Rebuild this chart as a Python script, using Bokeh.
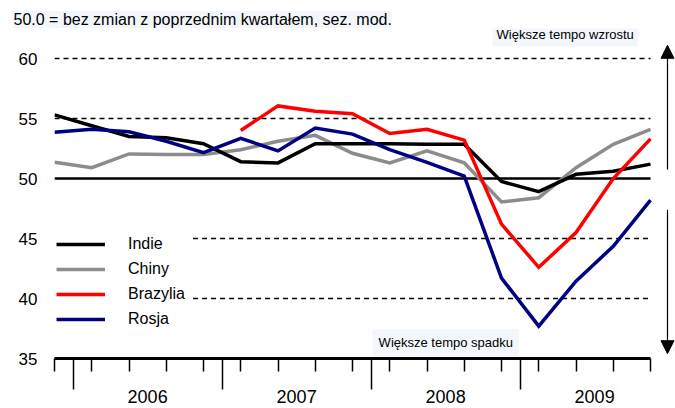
import math
from bokeh.plotting import figure
from bokeh.models import (Range1d, LinearAxis, FixedTicker, Legend, LegendItem,
                          Label, Arrow, NormalHead, ColumnDataSource, Title)
from bokeh.embed import file_html
from bokeh.resources import INLINE

nan = float("nan")

# ---- data (quarterly, IV 2005 .. IV 2009) ----
quarters = ["IV 2005", "I 2006", "II 2006", "III 2006", "IV 2006",
            "I 2007", "II 2007", "III 2007", "IV 2007",
            "I 2008", "II 2008", "III 2008", "IV 2008",
            "I 2009", "II 2009", "III 2009", "IV 2009"]
years = ["2006", "2007", "2008", "2009"]
indie = [55.3, 54.4, 53.5, 53.4, 52.9, 51.4, 51.3, 52.9, 52.9,
         52.9, 52.85, 52.85, 49.75, 48.9, 50.35, 50.6, 51.2]
chiny = [51.35, 50.9, 52.05, 52.0, 52.0, 52.4, 53.1, 53.6, 52.1,
         51.3, 52.3, 51.3, 48.05, 48.4, 50.9, 52.85, 54.1]
brazylia = [nan, nan, nan, nan, nan, 54.0, 56.05, 55.6, 55.4,
            53.75, 54.1, 53.2, 46.2, 42.6, 45.5, 50.0, 53.3]
rosja = [53.85, 54.1, 53.9, 53.1, 52.15, 53.35, 52.3, 54.2, 53.7,
         52.4, 51.35, 50.2, 41.7, 37.7, 41.45, 44.35, 48.2]
y_ticks = [35, 40, 45, 50, 55, 60]
dashed_levels_full = [55, 60]
dashed_levels_part = [40, 45]
zero_level = [50]

FONT = "Liberation Sans"
xs = list(range(len(quarters)))
last = len(quarters) - 1
box = "#f3f7fb"

title = Title(text="50.0 = bez zmian z poprzednim kwartałem, sez. mod.",
              align="left", offset=-41, standoff=1, text_font=FONT,
              text_font_size="16px", text_font_style="normal",
              text_color="black", background_fill_color=box)

p = figure(width=675, height=408, output_backend="svg", toolbar_location=None,
           x_range=Range1d(0, 16.671), y_range=Range1d(35, 62.5),
           x_axis_location=None, y_axis_location=None, title=title,
           min_border_left=54, min_border_right=0, min_border_top=28,
           min_border_bottom=50, outline_line_color=None,
           background_fill_color="white", border_fill_color="white")
p.center = []

# y axis
yax = LinearAxis(ticker=FixedTicker(ticks=y_ticks), axis_line_color=None,
                 major_tick_line_color=None, minor_tick_line_color=None,
                 major_tick_out=0, major_tick_in=0, minor_tick_out=0, minor_tick_in=0,
                 major_label_text_font=FONT, major_label_text_font_size="17px",
                 major_label_text_color="black", major_label_standoff=17)
p.add_layout(yax, "left")

# x axis: quarter ticks + year separators
bounds_ticks = [0.5 + 4 * k for k in range(len(years))]
centers = [2.5 + 4 * k for k in range(len(years))]
ax1 = LinearAxis(ticker=FixedTicker(ticks=bounds_ticks, minor_ticks=xs),
                 bounds=(0, last), axis_line_width=3, axis_line_color="black",
                 major_tick_out=31, major_tick_in=0, minor_tick_out=13, minor_tick_in=0,
                 major_tick_line_width=1.5, minor_tick_line_width=1.5,
                 major_tick_line_color="black", minor_tick_line_color="black",
                 major_label_overrides={t: "" for t in bounds_ticks},
                 major_label_text_font_size="0px", major_label_standoff=0)
p.add_layout(ax1, "below")
ax2 = LinearAxis(ticker=FixedTicker(ticks=centers), bounds=(0, last),
                 axis_line_color=None, major_tick_line_color=None,
                 minor_tick_line_color=None, major_tick_out=0, major_tick_in=0,
                 minor_tick_out=0, minor_tick_in=0,
                 major_label_overrides={c: y for c, y in zip(centers, years)},
                 major_label_text_font=FONT, major_label_text_font_size="18px",
                 major_label_text_color="black", major_label_standoff=0)
p.add_layout(ax2, "below")

# reference lines
p.segment(x0=[0] * len(dashed_levels_full), x1=[last] * len(dashed_levels_full),
          y0=dashed_levels_full, y1=dashed_levels_full,
          line_color="black", line_width=1.3, line_dash="5 4")
p.segment(x0=[3.72] * len(dashed_levels_part), x1=[last] * len(dashed_levels_part),
          y0=dashed_levels_part, y1=dashed_levels_part,
          line_color="black", line_width=1.3, line_dash="5 4")
p.segment(x0=[0], x1=[last], y0=zero_level, y1=zero_level,
          line_color="black", line_width=2.5)

src = ColumnDataSource(dict(x=xs, indie=indie, chiny=chiny, brazylia=brazylia, rosja=rosja))
lw = 3.5
r_ch = p.line("x", "chiny", source=src, line_color="#8c8c8c", line_width=lw, line_join="miter")
r_in = p.line("x", "indie", source=src, line_color="black", line_width=lw, line_join="miter")
r_ro = p.line("x", "rosja", source=src, line_color="#000080", line_width=lw, line_join="miter")
r_br = p.line("x", "brazylia", source=src, line_color="#ff0000", line_width=lw, line_join="miter")

legend = Legend(items=[LegendItem(label="Indie", renderers=[r_in]),
                       LegendItem(label="Chiny", renderers=[r_ch]),
                       LegendItem(label="Brazylia", renderers=[r_br]),
                       LegendItem(label="Rosja", renderers=[r_ro])],
                location=(2, 29), glyph_width=49, glyph_height=20,
                label_height=20, spacing=5, padding=0, margin=0,
                label_standoff=23, border_line_color=None,
                background_fill_alpha=0, label_text_font=FONT,
                label_text_font_size="16px", label_text_color="black")
p.add_layout(legend)

# annotations
p.add_layout(Label(x=11.76, y=61.96, text="Większe tempo wzrostu",
                   text_font=FONT, text_font_size="13px", text_baseline="middle",
                   text_color="black", background_fill_color=box, padding=4))
p.add_layout(Label(x=8.54, y=36.33, text="Większe tempo spadku",
                   text_font=FONT, text_font_size="13px", text_baseline="middle",
                   text_color="black", background_fill_color=box, padding=6))

p.add_layout(Arrow(end=NormalHead(size=13, fill_color="black", line_color="black"),
                   x_start=16.456, y_start=50.75, x_end=16.456, y_end=61.1,
                   line_color="black", line_width=1.2))
p.add_layout(Arrow(end=NormalHead(size=13, fill_color="black", line_color="black"),
                   x_start=16.456, y_start=47.4, x_end=16.456, y_end=35.4,
                   line_color="black", line_width=1.2))

open("out.html", "w").write(file_html(p, INLINE))
